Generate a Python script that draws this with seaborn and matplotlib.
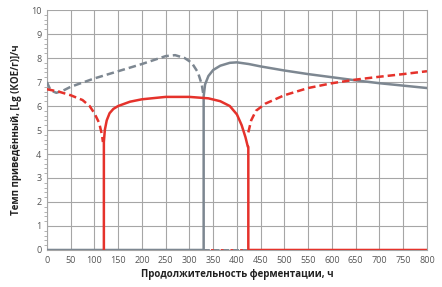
import numpy as np
from matplotlib import pyplot as plt
import seaborn as sns

# Данные (ч, [Lg(КОЕ/г)]/ч)
gray_solid_x = [0, 330, 330, 333, 340, 350, 365, 385, 400, 425, 450, 500, 550, 600, 650, 700, 750, 800]
gray_solid_y = [0, 0, 6.4, 6.9, 7.25, 7.5, 7.68, 7.8, 7.82, 7.75, 7.65, 7.48, 7.33, 7.2, 7.07, 6.95, 6.85, 6.75]

gray_dash_x = [0, 8, 20, 35, 50, 100, 150, 200, 250, 270, 290, 305, 318, 326, 330]
gray_dash_y = [7.0, 6.65, 6.55, 6.65, 6.8, 7.15, 7.45, 7.75, 8.08, 8.12, 8.0, 7.8, 7.4, 6.9, 6.4]
gray_dash_zero_x = [330, 800]
gray_dash_zero_y = [0, 0]

red_solid_x = [120, 120, 122, 126, 132, 140, 150, 175, 200, 250, 300, 340, 365, 385, 400, 410, 418, 423, 424, 424, 800]
red_solid_y = [0, 4.5, 5.0, 5.4, 5.7, 5.88, 6.0, 6.18, 6.28, 6.38, 6.38, 6.32, 6.2, 6.0, 5.65, 5.2, 4.7, 4.3, 4.3, 0, 0]

red_dash_x = [0, 25, 50, 75, 90, 100, 110, 116, 118]
red_dash_y = [6.7, 6.6, 6.45, 6.25, 6.0, 5.7, 5.3, 4.8, 4.5]
red_dash2_x = [424, 430, 440, 460, 500, 550, 600, 650, 700, 750, 800]
red_dash2_y = [4.9, 5.4, 5.8, 6.1, 6.45, 6.75, 6.95, 7.1, 7.22, 7.33, 7.45]
red_dash_zero_x = [120, 424]
red_dash_zero_y = [0, 0]

RED = "#e5322b"
GRAY = "#7d8791"

sns.set_style("white")
plt.rcParams['font.family'] = ['Open Sans', 'DejaVu Sans']

fig = plt.figure(figsize=(4.42, 2.87), dpi=100)
ax = fig.add_axes([0.106, 0.129, 0.86, 0.836])

def draw(x, y, color, ls, lw=1.8, z=3):
    sns.lineplot(x=x, y=y, ax=ax, color=color, linestyle=ls, linewidth=lw,
                 estimator=None, sort=False, zorder=z)

draw(red_dash_zero_x, red_dash_zero_y, RED, (0, (3, 2)), 1.4, 2)
draw(gray_dash_zero_x, gray_dash_zero_y, GRAY, (0, (3, 2)), 1.4, 2)
draw(gray_solid_x, gray_solid_y, GRAY, '-', 1.8, 3)
draw(gray_dash_x, gray_dash_y, GRAY, (0, (3, 1.6)), 1.8, 3)
draw(red_dash_x, red_dash_y, RED, (0, (3, 1.6)), 1.8, 4)
draw(red_dash2_x, red_dash2_y, RED, (0, (3, 1.6)), 1.8, 4)
draw(red_solid_x, red_solid_y, RED, '-', 1.8, 5)

ax.set_xlim(0, 800)
ax.set_ylim(0, 10)
ax.set_xticks(np.arange(0, 801, 50))
ax.set_yticks(np.arange(0, 11, 1))
ax.set_yticks(np.arange(0, 10.01, 0.2), minor=True)
ax.grid(True, which='major', color='#a6a6a6', linewidth=0.8)
ax.set_axisbelow(True)
for s in ['top']:
    ax.spines[s].set_visible(False)
for s in ['left', 'bottom', 'right']:
    ax.spines[s].set_color('#a6a6a6')
    ax.spines[s].set_linewidth(0.8)
ax.tick_params(axis='both', which='major', labelsize=6.5, labelcolor='#555555', length=0, pad=4)
ax.tick_params(axis='y', which='minor', length=2, color='#a6a6a6', left=True)

ax.set_xlabel("Продолжительность ферментации, ч", fontsize=7, fontweight='bold', color='#222222', labelpad=3)
ax.set_ylabel("Темп приведённый, [Lg (КОЕ/г)]/ч", fontsize=7, fontweight='bold', color='#222222', labelpad=6)

fig.savefig("out.png", dpi=100)
